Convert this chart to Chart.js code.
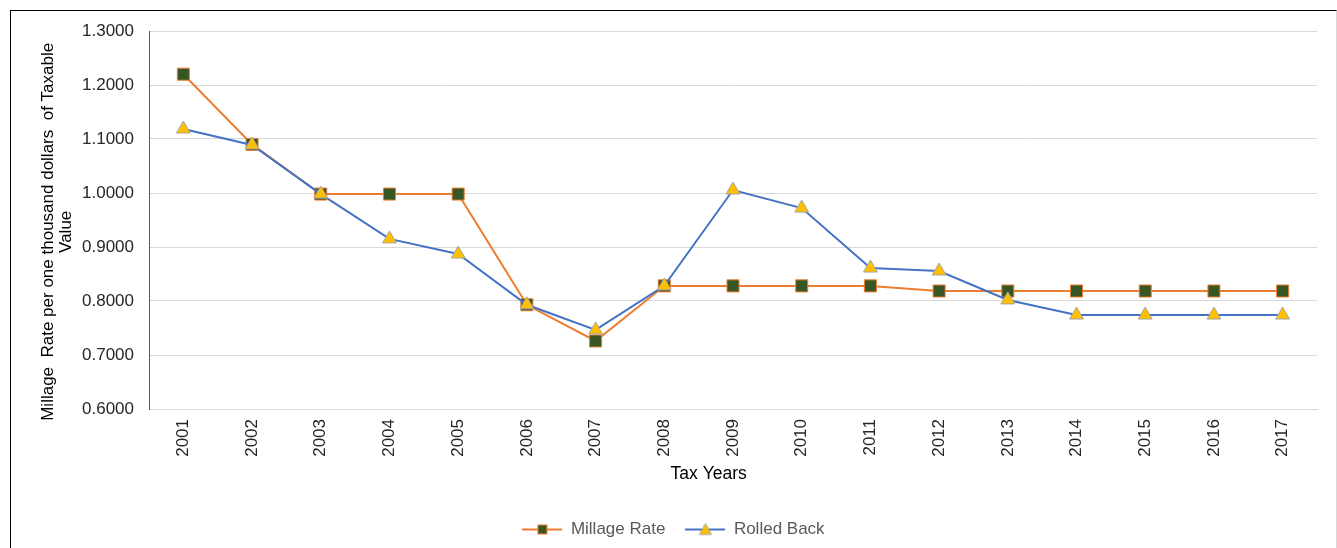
<!DOCTYPE html>
<html>
<head>
<meta charset="utf-8">
<script src="https://cdn.jsdelivr.net/npm/chart.js@4/dist/chart.umd.min.js"></script>
<style>
  html, body { margin: 0; padding: 0; background: #fff; }
  #frame {
    position: absolute; left: 10px; top: 10px;
    width: 1327px; height: 538px; box-sizing: border-box;
    border-left: 1px solid #000; border-top: 1px solid #000; border-right: 1px solid #d9d9d9;
  }
  #frame canvas { display: block; }
</style>
</head>
<body>
<div id="frame"><canvas id="millageChart" width="1325" height="537"></canvas></div>
<script>
// Tax years on the x axis
const years = ['2001', '2002', '2003', '2004', '2005', '2006', '2007', '2008', '2009',
               '2010', '2011', '2012', '2013', '2014', '2015', '2016', '2017'];

// Millage rate per year
const millageRate = [1.2200, 1.0900, 0.9980, 0.9980, 0.9980, 0.7930, 0.7260, 0.8280, 0.8280,
                     0.8280, 0.8280, 0.8185, 0.8185, 0.8185, 0.8185, 0.8185, 0.8185];

// Rolled back rate per year
const rolledBack = [1.1185, 1.0890, 0.9980, 0.9150, 0.8870, 0.7930, 0.7465, 0.8280, 1.0055,
                    0.9720, 0.8610, 0.8555, 0.8020, 0.7740, 0.7740, 0.7740, 0.7740];

// Y axis range and step
const yMin = 0.6;
const yMax = 1.3;
const yStep = 0.1;

const fontFamily = '"Liberation Sans", Arial, sans-serif';

// Legend markers: a short line with the point shape in the middle
function legendMarker(lineColor, shape, fill, stroke) {
    const c = document.createElement('canvas');
    c.width = 40; c.height = 14;
    const g = c.getContext('2d');
    g.strokeStyle = lineColor; g.lineWidth = 2;
    g.beginPath(); g.moveTo(0, 7); g.lineTo(40, 7); g.stroke();
    g.fillStyle = fill; g.strokeStyle = stroke; g.lineWidth = 1;
    if (shape === 'rect') {
        g.fillRect(15, 2, 10, 10); g.strokeRect(15.5, 2.5, 9, 9);
    } else {
        g.beginPath(); g.moveTo(20, 1); g.lineTo(26, 12); g.lineTo(14, 12); g.closePath();
        g.fill(); g.stroke();
    }
    return c;
}
const markers = [
    legendMarker('#ED7D31', 'rect', '#375623', '#ED7D31'),
    legendMarker('#4472C4', 'triangle', '#FFC000', '#A5A5A5')
];

const ctx = document.getElementById('millageChart').getContext('2d');
const millageChart = new Chart(ctx, {
    type: 'line',
    data: {
        labels: years,
        datasets: [{
            label: 'Millage Rate',
            data: millageRate,
            order: 1,
            borderColor: '#ED7D31',
            borderWidth: 2,
            pointStyle: 'rect',
            pointRadius: 8.5,
            pointBackgroundColor: '#375623',
            pointBorderColor: '#ED7D31',
            pointBorderWidth: 1,
            tension: 0,
            fill: false
        }, {
            label: 'Rolled Back',
            data: rolledBack,
            order: 0,
            borderColor: '#4472C4',
            borderWidth: 2,
            pointStyle: 'triangle',
            pointRadius: 8,
            pointBackgroundColor: '#FFC000',
            pointBorderColor: '#A5A5A5',
            pointBorderWidth: 1,
            tension: 0,
            fill: false
        }]
    },
    options: {
        responsive: false,
        animation: false,
        layout: { padding: { top: 20, right: 19, left: 19, bottom: 0 } },
        plugins: {
            tooltip: { enabled: false },
            legend: {
                position: 'bottom',
                labels: {
                    usePointStyle: true,
                    pointStyleWidth: 40,
                    boxHeight: 14,
                    padding: 20,
                    color: '#595959',
                    font: { family: fontFamily, size: 17 },
                    sort: (a, b) => a.datasetIndex - b.datasetIndex,
                    generateLabels: (chart) => {
                        const items = Chart.defaults.plugins.legend.labels.generateLabels(chart);
                        items.forEach(item => { item.pointStyle = markers[item.datasetIndex]; });
                        return items;
                    }
                }
            }
        },
        scales: {
            x: {
                offset: true,
                grid: { display: false, drawTicks: false },
                border: { color: '#d9d9d9', width: 1 },
                ticks: {
                    minRotation: 90, maxRotation: 90, padding: 10,
                    color: '#262626',
                    font: { family: fontFamily, size: 17 }
                },
                title: {
                    display: true, text: 'Tax Years          ', color: '#000',
                    padding: { top: 0, bottom: 16 },
                    font: { family: fontFamily, size: 17.5 }
                },
                afterFit: (scale) => { scale.height = 92; }
            },
            y: {
                min: yMin, max: yMax,
                grid: { color: '#d9d9d9', lineWidth: 1, drawTicks: false },
                border: { color: '#595959', width: 1 },
                ticks: {
                    stepSize: yStep, padding: 15,
                    color: '#262626',
                    font: { family: fontFamily, size: 17 },
                    callback: (v) => Number(v).toFixed(4)
                },
                title: {
                    display: true,
                    text: ['Millage  Rate per one thousand dollars  of Taxable     ', 'Value     '],
                    color: '#000',
                    padding: { top: 9, bottom: 0 },
                    font: { family: fontFamily, size: 17, lineHeight: 1.06 }
                },
                afterFit: (scale) => {
                    scale.width = 119;
                    scale.paddingTop = 0;
                    scale.paddingBottom = 0;
                }
            }
        }
    }
});
</script>
</body>
</html>
